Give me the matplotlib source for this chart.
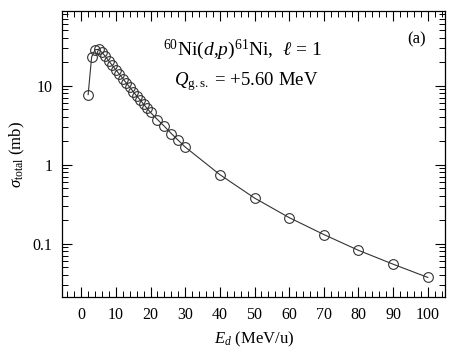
import matplotlib

matplotlib.use("Agg")
import matplotlib.pyplot as plt
from matplotlib.ticker import FixedLocator, FuncFormatter, LogLocator, MultipleLocator

# beam energy (MeV/u) and total cross section (mb)
energy = [2, 3, 4, 5, 6, 7, 8, 9, 10, 11, 12, 13, 14, 15, 16, 17, 18, 19, 20,
          22, 24, 26, 28, 30, 40, 50, 60, 70, 80, 90, 100]
sigma = [7.7, 23.0, 28.5, 28.8, 26.3, 23.4, 20.4, 18.0, 15.8, 14.0, 12.3, 10.8,
         9.55, 8.4, 7.4, 6.6, 5.8, 5.15, 4.57,
         3.72, 3.05, 2.47, 2.03, 1.67, 0.746, 0.377, 0.213, 0.130, 0.082,
         0.0547, 0.0372]
y_ticks = [0.1, 1, 10]

plt.rcParams["font.family"] = ["Liberation Serif", "DejaVu Serif"]
plt.rcParams["mathtext.fontset"] = "custom"
plt.rcParams["mathtext.rm"] = "Liberation Serif"
plt.rcParams["mathtext.it"] = "Liberation Serif:italic"

fig = plt.figure(figsize=(4.57, 3.57), dpi=100)
ax = fig.add_axes([0.136, 0.168, 0.838, 0.801])

ax.plot(energy, sigma, color="#333333", linewidth=0.8, marker="o",
        markersize=7, markerfacecolor="none", markeredgewidth=0.8)

ax.set_yscale("log")
ax.set_xlim(-5.5, 105)
ax.set_ylim(0.021, 88)
ax.xaxis.set_major_locator(MultipleLocator(10))
ax.xaxis.set_minor_locator(MultipleLocator(2))
ax.yaxis.set_major_locator(FixedLocator(y_ticks))
ax.yaxis.set_minor_locator(LogLocator(base=10, subs=range(2, 10)))
ax.yaxis.set_major_formatter(FuncFormatter(lambda v, _: f"{v:g}"))
ax.tick_params(which="both", direction="in", top=True, right=True,
               labelsize=11.5, pad=7)
ax.tick_params(which="major", length=7, width=0.8)
ax.tick_params(which="minor", length=4, width=0.7)
for spine in ax.spines.values():
    spine.set_linewidth(0.9)

ax.set_xlabel("$E_d$ (MeV/u)", fontsize=12, labelpad=5)
ax.set_ylabel(r"$\sigma_\mathrm{total}$ (mb)", fontsize=12, labelpad=4)

ax.text(0.472, 0.866, r"$^{60}$Ni($d$,$p$)$^{61}$Ni,  $\ell$ = 1", transform=ax.transAxes,
        ha="center", va="center", fontsize=14)
ax.text(0.48, 0.755, r"$Q_\mathrm{g.s.}$ = +5.60 MeV", transform=ax.transAxes,
        ha="center", va="center", fontsize=13.5)
ax.text(0.925, 0.9, "(a)", transform=ax.transAxes, ha="center", va="center",
        fontsize=12)

fig.savefig("out.png", dpi=100)
